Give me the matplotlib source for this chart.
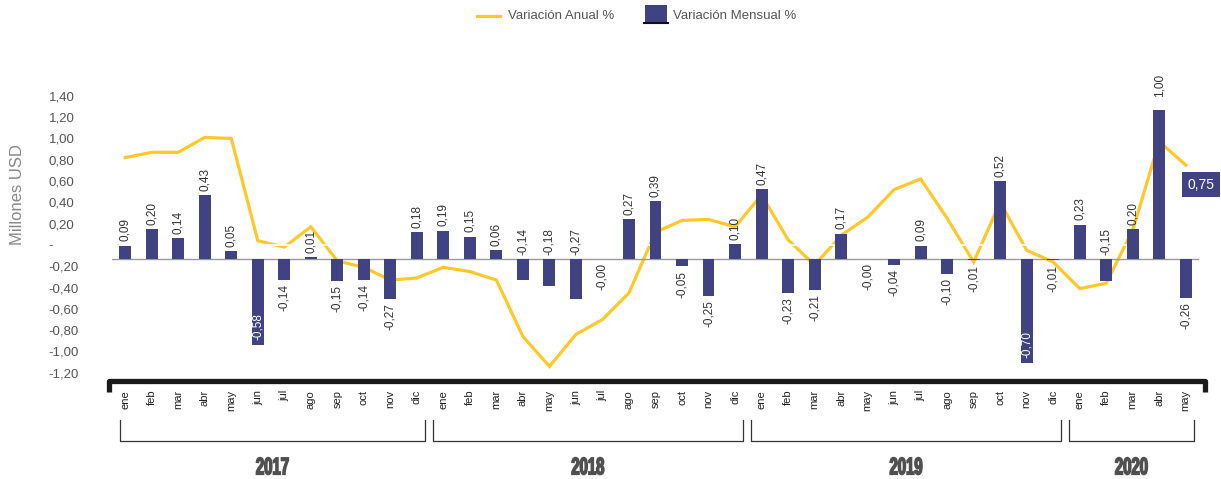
import matplotlib.pyplot as plt
import numpy as np
from matplotlib.font_manager import FontProperties
from matplotlib.lines import Line2D
from matplotlib.patches import PathPatch, Rectangle
from matplotlib.textpath import TextPath
from matplotlib.transforms import Affine2D, blended_transform_factory

plt.rcParams["font.family"] = ["Liberation Sans", "DejaVu Sans"]

# Data
months = ["ene", "feb", "mar", "abr", "may", "jun", "jul", "ago", "sep", "oct", "nov", "dic"]
years = ["2017", "2018", "2019", "2020"]
months_per_year = [12, 12, 12, 5]
month_labels = months * 3 + months[:5]

mensual = [0.09, 0.20, 0.14, 0.43, 0.05, -0.58, -0.14, 0.01, -0.15, -0.14, -0.27, 0.18,
           0.19, 0.15, 0.06, -0.14, -0.18, -0.27, -0.0, 0.27, 0.39, -0.05, -0.25, 0.10,
           0.47, -0.23, -0.21, 0.17, -0.0, -0.04, 0.09, -0.10, -0.01, 0.52, -0.70, -0.01,
           0.23, -0.15, 0.20, 1.00, -0.26]

anual = [0.82, 0.87, 0.87, 1.01, 1.00, 0.04, -0.02, 0.17, -0.15, -0.21, -0.33, -0.31,
         -0.21, -0.25, -0.33, -0.86, -1.14, -0.84, -0.70, -0.45, 0.12, 0.23, 0.24, 0.17,
         0.47, 0.05, -0.19, 0.09, 0.26, 0.52, 0.62, 0.25, -0.16, 0.40, -0.05, -0.16,
         -0.41, -0.36, 0.14, 0.97, 0.75]

# label placement exceptions (index -> where)
label_pos = {5: "inside", 34: "inside", 15: "above", 16: "above", 17: "above", 37: "above"}

bar_color = "#414281"
line_color = "#FFC829"
W, H = 1221, 479


def fmt(v):
    return f"{v:.2f}".replace(".", ",")


def condensed_label(fig, cx, cy, s, width_px, height_px, color):
    # bold text squeezed horizontally (no condensed font installed)
    tp = TextPath((0, 0), s, size=1, prop=FontProperties(family="Liberation Sans", weight="bold"))
    ext = tp.get_extents()
    tr = (Affine2D()
          .translate(-ext.x0 - ext.width / 2, -ext.y0 - ext.height / 2)
          .scale(width_px / ext.width / W, height_px / ext.height / H)
          .translate(cx, cy)
          + fig.transFigure)
    fig.add_artist(PathPatch(tp, transform=tr, fc=color, ec=color, lw=1.1))


fig = plt.figure(figsize=(12.21, 4.79), dpi=100)
ax = fig.add_axes([0.0917, 0.2109, 0.8903, 0.6221])
ax2 = ax.twinx()

x = np.arange(len(mensual))

# annual line (left axis scale)
ax.plot(x, anual, color=line_color, lw=2.3, solid_joinstyle="miter", zorder=2)
ax.axhline(0, color="white", lw=1.2, zorder=3)
ax.set_ylim(-1.249, 1.549)
ax.set_xlim(-0.5, len(mensual) - 0.5)

yt = np.round(np.arange(-1.2, 1.41, 0.2), 2)
ax.set_yticks(yt)
ax.set_yticklabels(["-" if abs(t) < 1e-9 else fmt(t) for t in yt], ha="left")
ax.tick_params(axis="y", length=0, pad=45.5, labelsize=9.5, labelcolor="#555555")
ax.set_xticks(x)
ax.set_xticklabels(month_labels, rotation=90, va="top")
ax.tick_params(axis="x", length=0, pad=8.5, labelsize=8, labelcolor="#222222")
for s in ax.spines.values():
    s.set_visible(False)

# monthly bars (own scale)
ax2.bar(x, mensual, width=0.45, color=bar_color, zorder=3)
ax2.axhline(0, color="#9a9a9a", lw=1, zorder=2)
ax2.set_ylim(-0.799, 1.201)
ax2.set_yticks([])
for s in ax2.spines.values():
    s.set_visible(False)

for i, v in enumerate(mensual):
    neg = np.signbit(v)
    where = label_pos.get(i, "below" if neg else "above")
    if where == "above":
        y0 = 0 if neg else v
        gap = 9 if v >= 1 else 3
        ax2.annotate(fmt(v), (i, y0), xytext=(0, gap), textcoords="offset points",
                     rotation=90, ha="center", va="bottom", fontsize=8.5, color="#333333",
                     annotation_clip=False)
    elif where == "below":
        ax2.annotate(fmt(v), (i, v), xytext=(0, -3), textcoords="offset points",
                     rotation=90, ha="center", va="top", fontsize=8.5, color="#333333",
                     annotation_clip=False)
    else:
        ax2.annotate(fmt(v), (i, v), xytext=(0, 4), textcoords="offset points",
                     rotation=90, ha="center", va="bottom", fontsize=8.5, color="white",
                     annotation_clip=False)

# last annual value label in a box
ax.annotate(fmt(anual[-1]), (x[-1], anual[-1]), xytext=(11, -14), textcoords="offset points",
            ha="center", va="center", fontsize=10, color="white", annotation_clip=False,
            bbox=dict(boxstyle="square,pad=0.4", fc=bar_color, ec="none"), zorder=5)

# y label
fig.text(0.014, 0.593, "Millones USD", rotation=90, ha="center", va="center",
         fontsize=12, color="#888888")

# thick bottom bracket
fig.add_artist(Line2D([0.0893, 0.0893, 0.9865, 0.9865], [0.1816, 0.2046, 0.2046, 0.1816],
                      transform=fig.transFigure, color="#1a1a1a", lw=3.8,
                      solid_joinstyle="round", solid_capstyle="butt"))

# year brackets
tr = blended_transform_factory(ax.transData, fig.transFigure)
start = 0
for yr, n in zip(years, months_per_year):
    x0, x1 = start - 0.4, start + n - 1 + 0.3
    if start == 0:
        x0 = start - 0.2
    fig.add_artist(Line2D([x0, x0, x1, x1], [0.123, 0.0793, 0.0793, 0.123],
                          transform=tr, color="#333333", lw=0.9))
    cx = fig.transFigure.inverted().transform(ax.transData.transform(((x0 + x1) / 2, 0)))[0]
    condensed_label(fig, cx, 0.027, yr, 32, 17, "#505050")
    start += n

# legend
fig.add_artist(Line2D([0.3907, 0.4095], [0.9666, 0.9666], transform=fig.transFigure,
                      color=line_color, lw=2.3))
fig.text(0.4160, 0.9666, "Variación Anual %", ha="left", va="center", fontsize=9.5,
         color="#555555")
fig.add_artist(Rectangle((0.5283, 0.9541), 0.018, 0.0355, transform=fig.transFigure,
                         color=bar_color, lw=0))
fig.add_artist(Line2D([0.5274, 0.5470], [0.9520, 0.9520], transform=fig.transFigure,
                      color="#111111", lw=1.5))
fig.text(0.5512, 0.9666, "Variación Mensual %", ha="left", va="center", fontsize=9.5,
         color="#555555")

fig.savefig("out.png", dpi=100)
